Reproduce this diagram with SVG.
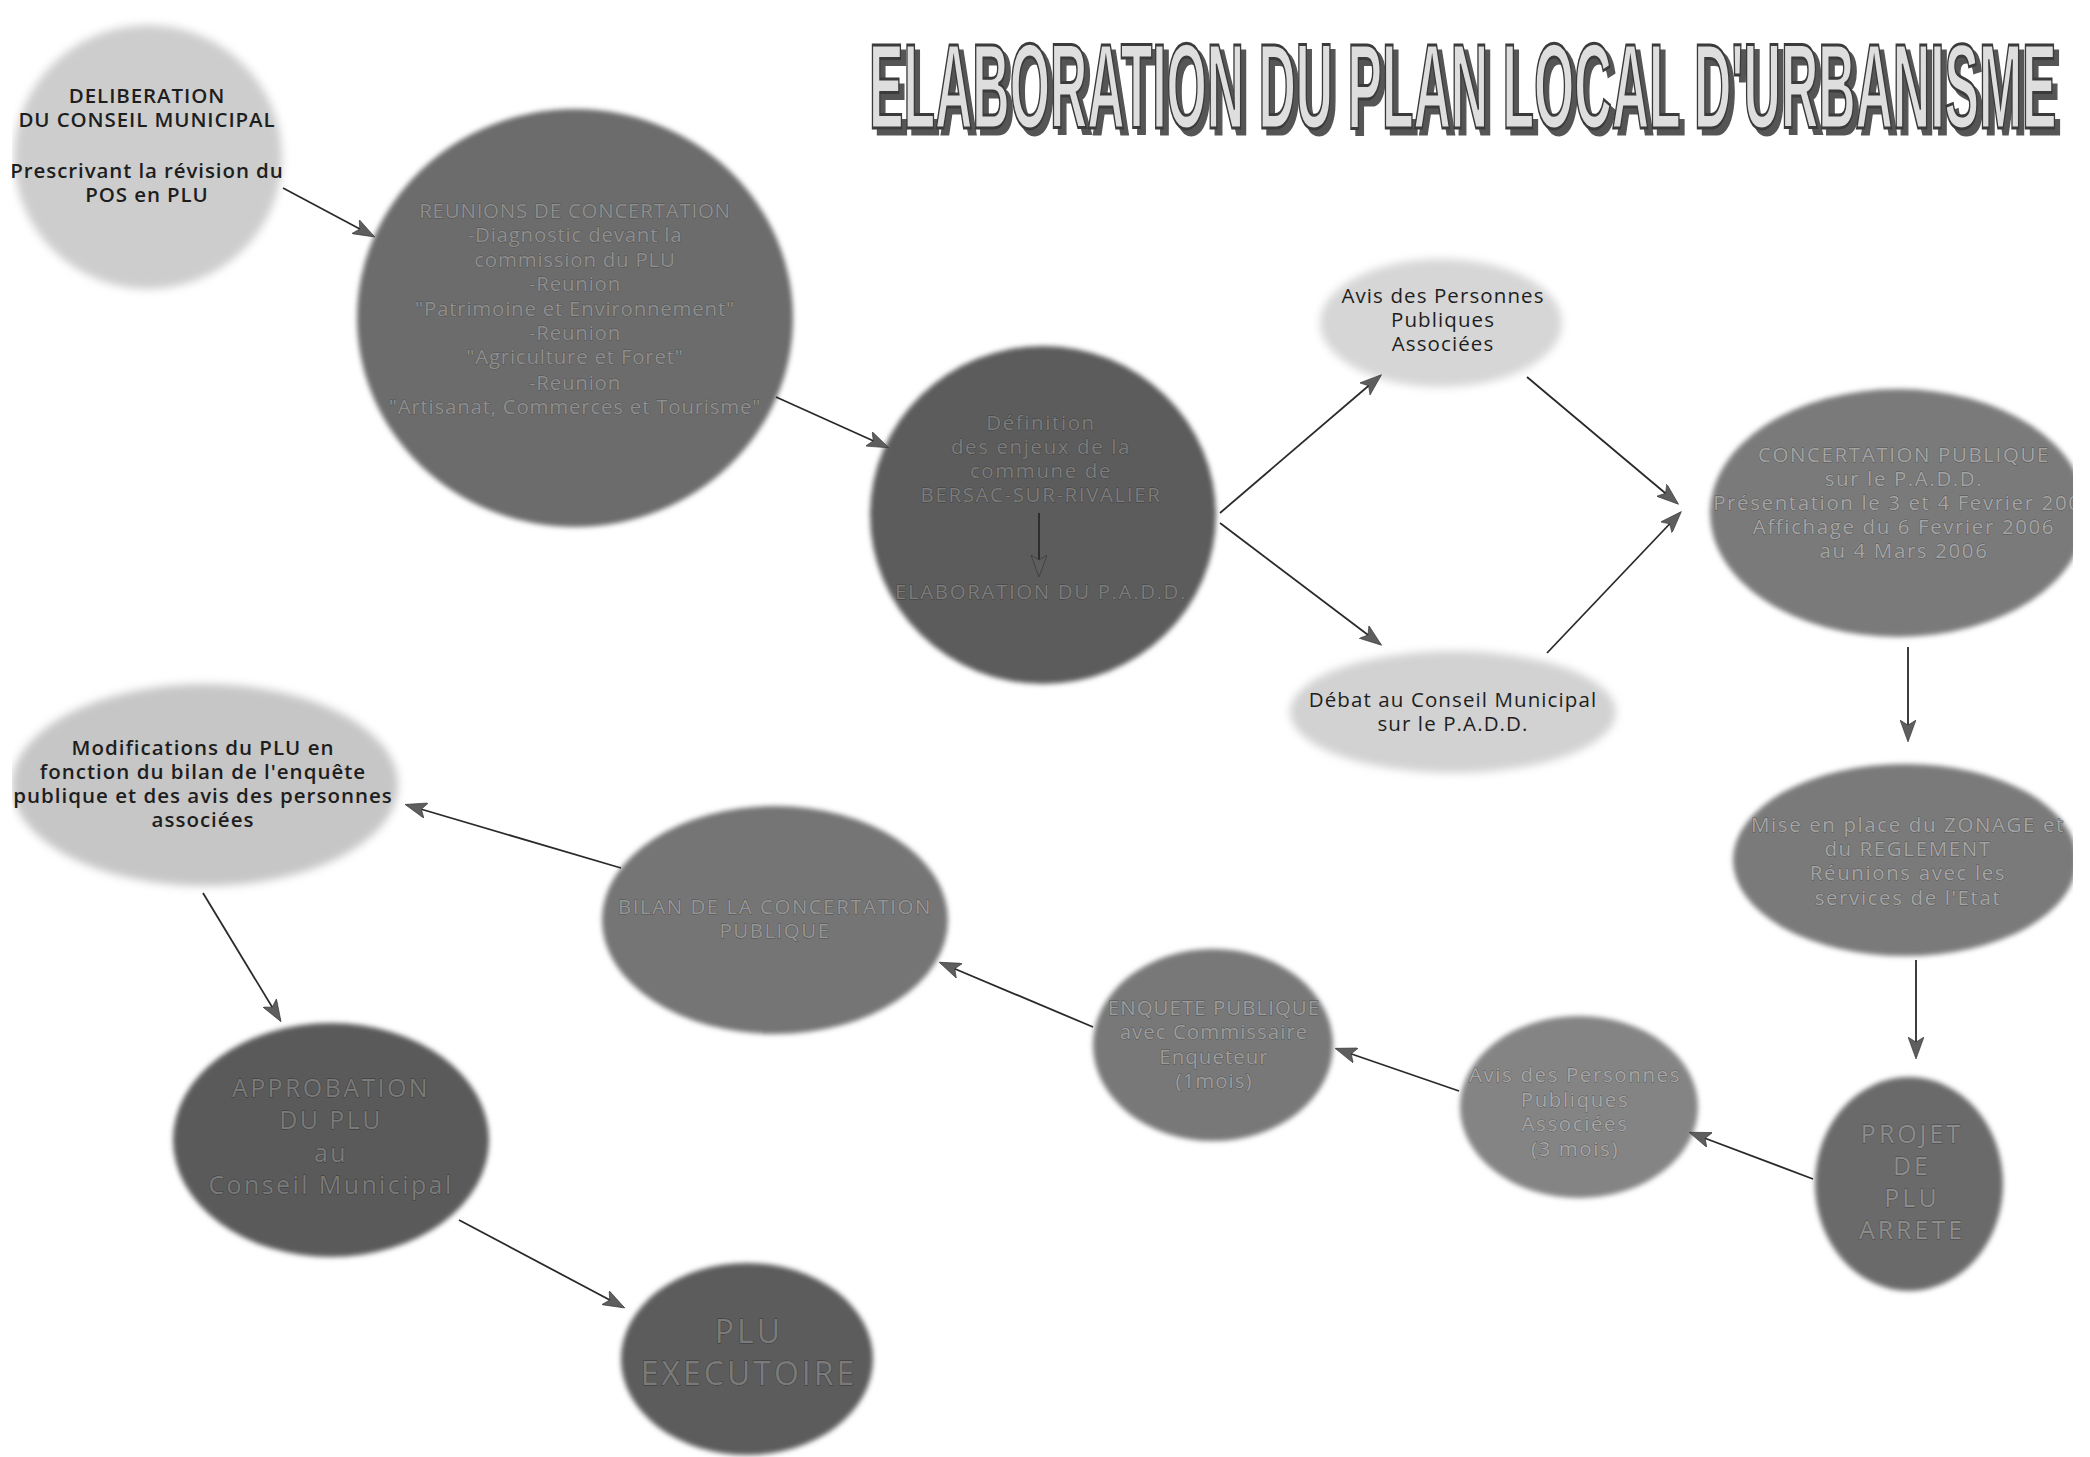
<svg xmlns="http://www.w3.org/2000/svg" width="2090" height="1457" viewBox="0 0 2090 1457">
<style>
  .t { font-family: "Open Sans", "Noto Sans", "Liberation Sans", sans-serif; text-anchor: middle; }
  .lt { fill: #1e1e1e; font-weight: 600; font-size: 20.5px; }
  .dk { fill: #9a9a9a; stroke: #4a4a4a; stroke-width: 0.8px; paint-order: stroke; font-size: 20.5px; }
  .conn line { stroke: #2a2a2a; stroke-width: 1.8; fill: none; marker-end: url(#ah); }
  .title { font-family: "Liberation Sans Narrow", "Liberation Sans", "DejaVu Sans Condensed", sans-serif; font-weight: bold; font-size: 56px; }
</style>
<defs>
  <marker id="ah" markerUnits="userSpaceOnUse" markerWidth="24" markerHeight="16" refX="20" refY="8" orient="auto">
    <path d="M0,0 L22,8 L0,16 L5,8 Z" fill="#5e5e5e" stroke="#333" stroke-width="0.6"/>
  </marker>
  <filter id="soft" x="-10%" y="-10%" width="120%" height="120%"><feGaussianBlur stdDeviation="2.5"/></filter>
  <filter id="fuzzy" x="-10%" y="-10%" width="120%" height="120%"><feGaussianBlur stdDeviation="4"/></filter>
  <filter id="shadow" x="-5%" y="-30%" width="110%" height="160%">
    <feOffset in="SourceAlpha" dx="5.5" dy="3" result="off"/>
    <feFlood flood-color="#555555"/>
    <feComposite in2="off" operator="in" result="sh"/>
    <feMerge><feMergeNode in="sh"/><feMergeNode in="SourceGraphic"/></feMerge>
  </filter>
  <clipPath id="page"><rect x="12" y="0" width="2061" height="1457"/></clipPath>
</defs>
<rect x="0" y="0" width="2090" height="1457" fill="#ffffff"/>

<g id="title" transform="translate(869,128) scale(0.923,2.16)">
  <text class="title" x="0" y="0" fill="#dedede" stroke="#3a3a3a" stroke-width="1.4" filter="url(#shadow)">ELABORATION DU PLAN LOCAL D'URBANISME</text>
</g>

<g clip-path="url(#page)">
<g id="n1">
  <ellipse cx="148" cy="157" rx="134" ry="132" fill="#cdcdcd" filter="url(#fuzzy)"/>
  <text class="t lt" style="letter-spacing:0.9px"><tspan x="147" y="103">DELIBERATION</tspan><tspan x="147" y="127">DU CONSEIL MUNICIPAL</tspan><tspan x="147" y="178">Prescrivant la révision du</tspan><tspan x="147" y="202">POS en PLU</tspan></text>
</g>
<g id="n2">
  <ellipse cx="575" cy="318" rx="218" ry="209" fill="#6c6c6c" filter="url(#soft)"/>
  <text class="t dk" style="fill:#8e8e8e;stroke:#505050;letter-spacing:0.75px"><tspan x="575" y="218">REUNIONS DE CONCERTATION</tspan><tspan x="575" y="242">-Diagnostic devant la</tspan><tspan x="575" y="267">commission du PLU</tspan><tspan x="575" y="291">-Reunion</tspan><tspan x="575" y="316">"Patrimoine et Environnement"</tspan><tspan x="575" y="340">-Reunion</tspan><tspan x="575" y="364">"Agriculture et Foret"</tspan><tspan x="575" y="390">-Reunion</tspan><tspan x="575" y="414">"Artisanat, Commerces et Tourisme"</tspan></text>
</g>
<g id="n3">
  <ellipse cx="1043" cy="515" rx="173" ry="169" fill="#5c5c5c" filter="url(#soft)"/>
  <text class="t dk" style="fill:#7c7c7c;stroke:#404040;letter-spacing:1.6px"><tspan x="1041" y="430">Définition</tspan><tspan x="1041" y="454">des enjeux de la</tspan><tspan x="1041" y="478">commune de</tspan><tspan x="1041" y="502">BERSAC-SUR-RIVALIER</tspan><tspan x="1041" y="599">ELABORATION DU P.A.D.D.</tspan></text>
</g>
<g id="n4">
  <ellipse cx="1441" cy="323" rx="121" ry="64" fill="#d6d6d6" filter="url(#fuzzy)"/>
  <text class="t lt" style="font-weight:500;letter-spacing:1.1px"><tspan x="1443" y="303">Avis des Personnes</tspan><tspan x="1443" y="327">Publiques</tspan><tspan x="1443" y="351">Associées</tspan></text>
</g>
<g id="n5">
  <ellipse cx="1453" cy="712" rx="163" ry="61" fill="#d2d2d2" filter="url(#fuzzy)"/>
  <text class="t lt" style="font-weight:500;letter-spacing:1.1px"><tspan x="1453" y="707">Débat au Conseil Municipal</tspan><tspan x="1453" y="731">sur le P.A.D.D.</tspan></text>
</g>
<g id="n6">
  <ellipse cx="1898" cy="513" rx="188" ry="124" fill="#7a7a7a" filter="url(#soft)"/>
  <text class="t dk" style="fill:#a4a4a4;stroke:#555;letter-spacing:1.6px"><tspan x="1904" y="462">CONCERTATION PUBLIQUE</tspan><tspan x="1904" y="486">sur le P.A.D.D.</tspan><tspan x="1904" y="510">Présentation le 3 et 4 Fevrier 2006</tspan><tspan x="1904" y="534">Affichage du 6 Fevrier 2006</tspan><tspan x="1904" y="558">au 4 Mars 2006</tspan></text>
</g>
<g id="n7">
  <ellipse cx="1905" cy="860" rx="172" ry="96" fill="#7a7a7a" filter="url(#soft)"/>
  <text class="t dk" style="fill:#a4a4a4;stroke:#555;letter-spacing:1.6px"><tspan x="1908" y="832">Mise en place du ZONAGE et</tspan><tspan x="1908" y="856">du REGLEMENT</tspan><tspan x="1908" y="880">Réunions avec les</tspan><tspan x="1908" y="905">services de l'Etat</tspan></text>
</g>
<g id="n8">
  <ellipse cx="1909" cy="1184" rx="94" ry="107" fill="#6a6a6a" filter="url(#soft)"/>
  <text class="t dk" style="font-size:25px;letter-spacing:3px;fill:#8c8c8c;stroke:#484848"><tspan x="1912" y="1143">PROJET</tspan><tspan x="1912" y="1175">DE</tspan><tspan x="1912" y="1207">PLU</tspan><tspan x="1912" y="1239">ARRETE</tspan></text>
</g>
<g id="n9">
  <ellipse cx="1579" cy="1107" rx="119" ry="91" fill="#848484" filter="url(#soft)"/>
  <text class="t dk" style="letter-spacing:1.6px;fill:#a6a6a6;stroke:#5a5a5a"><tspan x="1575" y="1082">Avis des Personnes</tspan><tspan x="1575" y="1107">Publiques</tspan><tspan x="1575" y="1131">Associées</tspan><tspan x="1575" y="1156">(3 mois)</tspan></text>
</g>
<g id="n10">
  <ellipse cx="1213" cy="1045" rx="120" ry="96" fill="#787878" filter="url(#soft)"/>
  <text class="t dk" style="letter-spacing:1px;fill:#9c9c9c;stroke:#525252"><tspan x="1214" y="1015">ENQUETE PUBLIQUE</tspan><tspan x="1214" y="1039">avec Commissaire</tspan><tspan x="1214" y="1064">Enqueteur</tspan><tspan x="1214" y="1088">(1mois)</tspan></text>
</g>
<g id="n11">
  <ellipse cx="775" cy="920" rx="173" ry="114" fill="#747474" filter="url(#soft)"/>
  <text class="t dk" style="letter-spacing:1.5px;fill:#969696;stroke:#505050"><tspan x="775" y="914">BILAN DE LA CONCERTATION</tspan><tspan x="775" y="938">PUBLIQUE</tspan></text>
</g>
<g id="n12">
  <ellipse cx="205" cy="785" rx="193" ry="101" fill="#c6c6c6" filter="url(#fuzzy)"/>
  <text class="t lt" style="letter-spacing:1px"><tspan x="203" y="755">Modifications du PLU en</tspan><tspan x="203" y="779">fonction du bilan de l'enquête</tspan><tspan x="203" y="803">publique et des avis des personnes</tspan><tspan x="203" y="827">associées</tspan></text>
</g>
<g id="n13">
  <ellipse cx="331" cy="1140" rx="158" ry="117" fill="#5a5a5a" filter="url(#soft)"/>
  <text class="t dk" style="font-size:25px;letter-spacing:2.4px;fill:#7a7a7a;stroke:#383838"><tspan x="331" y="1097">APPROBATION</tspan><tspan x="331" y="1129">DU PLU</tspan><tspan x="331" y="1162">au</tspan><tspan x="331" y="1194">Conseil Municipal</tspan></text>
</g>
<g id="n14">
  <ellipse cx="747" cy="1359" rx="126" ry="96" fill="#5c5c5c" filter="url(#soft)"/>
  <text class="t dk" style="font-size:32px;letter-spacing:3px;fill:#7a7a7a;stroke:#383838"><tspan x="749" y="1343">PLU</tspan><tspan x="749" y="1385">EXECUTOIRE</tspan></text>
</g>
</g>

<g id="connectors" class="conn">
  <line x1="283" y1="188" x2="373" y2="236"/>
  <line x1="776" y1="397" x2="887" y2="447"/>
  <line x1="1039" y1="513" x2="1039" y2="575"/>
  <line x1="1220" y1="513" x2="1380" y2="376"/>
  <line x1="1220" y1="523" x2="1380" y2="644"/>
  <line x1="1527" y1="377" x2="1677" y2="503"/>
  <line x1="1547" y1="653" x2="1680" y2="513"/>
  <line x1="1908" y1="647" x2="1908" y2="740"/>
  <line x1="1916" y1="960" x2="1916" y2="1057"/>
  <line x1="1813" y1="1179" x2="1691" y2="1133"/>
  <line x1="1459" y1="1091" x2="1337" y2="1049"/>
  <line x1="1093" y1="1027" x2="941" y2="963"/>
  <line x1="621" y1="868" x2="407" y2="805"/>
  <line x1="203" y1="893" x2="280" y2="1020"/>
  <line x1="459" y1="1220" x2="623" y2="1307"/>
</g>
</svg>
